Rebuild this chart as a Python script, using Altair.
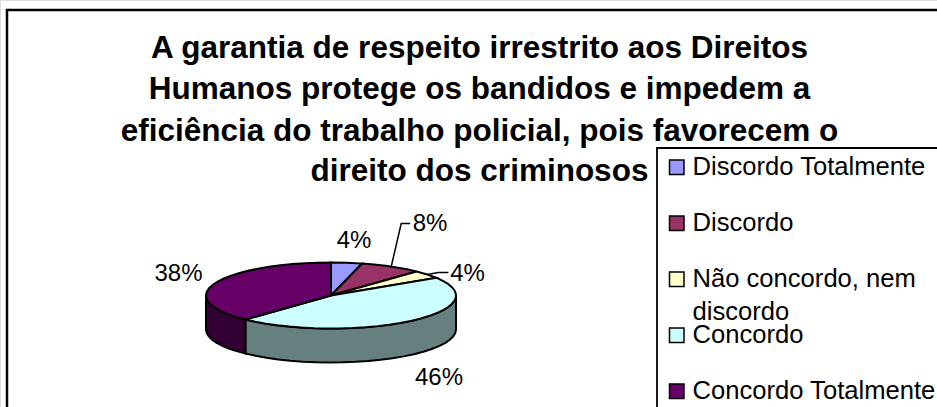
import math
import altair as alt

# Survey answers and their shares, in percent
categories = ["Discordo Totalmente", "Discordo", "Não concordo, nem discordo", "Concordo", "Concordo Totalmente"]
shares = [4, 8, 4, 46, 38]
top_colors = ["#9999FF", "#993366", "#FFFFCC", "#CCFFFF", "#660066"]
side_colors = ["#4D4D80", "#4D1A33", "#808066", "#668080", "#330033"]

title_lines = [
    "A garantia de respeito irrestrito aos Direitos",
    "Humanos protege os bandidos e impedem a",
    "eficiência do trabalho policial, pois favorecem o",
    "direito dos criminosos",
]
legend_lines = [
    ["Discordo Totalmente"],
    ["Discordo"],
    ["Não concordo, nem", "discordo"],
    ["Concordo"],
    ["Concordo Totalmente"],
]

W, H = 937, 407
FONT = "Liberation Sans"

# Tilted-disc geometry on the page
CX, CY, RX, RY, DEPTH = 331, 295.5, 125, 33, 34
STEP = 6


def rim(angle, drop=0.0):
    """Point on the disc rim; angle in degrees, clockwise from twelve o'clock."""
    a = math.radians(angle)
    return [CX + RX * math.sin(a), -(CY - RY * math.cos(a) + drop)]


def sweep(start, end):
    n = max(1, round((end - start) / STEP))
    return [start + (end - start) * i / n for i in range(n + 1)]


def feature(kind, coords, **props):
    return {"type": "Feature", "properties": props,
            "geometry": {"type": kind, "coordinates": coords}}


tops, sides = [], []
cum = 0
for cat, share, top, side in zip(categories, shares, top_colors, side_colors):
    a0, a1 = cum * 3.6, (cum + share) * 3.6
    cum += share
    ring = [[CX, -CY]] + [rim(a) for a in sweep(a0, a1)] + [[CX, -CY]]
    tops.append(feature("Polygon", [ring], name=cat, color=top))
    # Only the part of the rim facing the viewer shows a wall
    w0, w1 = max(a0, 90), min(a1, 270)
    if w1 > w0:
        arc = sweep(w0, w1)
        wall = [rim(a) for a in arc] + [rim(a, DEPTH) for a in reversed(arc)]
        wall.append(wall[0])
        sides.append(feature("Polygon", [wall], name=cat, color=side))


def mid_angle(i):
    return (sum(shares[:i]) + shares[i] / 2) * 3.6


# Elbowed leader lines for the two labels pulled off their slices
def leader(i, elbow_dx, elbow_dy, run):
    s = rim(mid_angle(i))
    e = [s[0] + elbow_dx, s[1] + elbow_dy]
    return feature("LineString", [s, e, [e[0] + run, e[1]]], name=categories[i])


leaders = [leader(1, 10, 43, 9), leader(2, 11, 2, 10)]

projection = alt.Projection(type="identity", reflectY=True, scale=1, translate=[0, 0])


def shapes(features, **mark):
    return (alt.Chart(alt.Data(values=features))
            .mark_geoshape(**mark)
            .project(**projection.to_dict()))


walls = shapes(sides, stroke="black", strokeWidth=2).encode(
    fill=alt.Fill("properties.color:N", scale=None))
slices = shapes(tops, stroke="black", strokeWidth=2).encode(
    fill=alt.Fill("properties.color:N", scale=None))
leader_lines = shapes(leaders, filled=False, stroke="black", strokeWidth=1.5)


def text(label, x, y, size, **kw):
    return alt.Chart(alt.Data(values=[{"t": label}])).mark_text(
        font=FONT, fontSize=size, color="black", baseline="middle", **kw
    ).encode(text="t:N", x=alt.value(x), y=alt.value(y))


def box(x, y, x2, y2, **kw):
    return alt.Chart(alt.Data(values=[{"k": 1}])).mark_rect(
        fill="white", stroke="black", **kw
    ).encode(x=alt.value(x), x2=alt.value(x2), y=alt.value(y), y2=alt.value(y2))


layers = [box(7, 10, 960, 440, strokeWidth=2.5)]

title_y = [49, 90, 132, 172]
for line, y in zip(title_lines, title_y):
    layers.append(text(line, 479.5, y, 31.5, fontWeight="bold", align="center"))

layers += [walls, slices, leader_lines]

label_pos = [(354, 241), (430, 224), (467.5, 274), (439, 378), (178.5, 274)]
for share, (x, y) in zip(shares, label_pos):
    layers.append(text(f"{share}%", x, y, 24, align="center"))

layers.append(box(657, 148, 960, 440, strokeWidth=1.8))

legend_y = [167, 223, 279, 335, 391]
for lines, color, y in zip(legend_lines, top_colors, legend_y):
    layers.append(
        alt.Chart(alt.Data(values=[{"k": 1}])).mark_rect(
            fill=color, stroke="black", strokeWidth=1.5
        ).encode(x=alt.value(669.5), x2=alt.value(684), y=alt.value(y - 7),
                 y2=alt.value(y + 7.5))
    )
    for j, line in enumerate(lines):
        layers.append(text(line, 692.5, y + 33 * j, 25.6, align="left"))

chart = alt.layer(*layers).properties(
    width=W, height=H, padding=0, autosize=alt.AutoSizeParams(type="none")
).configure_view(stroke=None).configure(background="white")

chart.save("out.html", embed_options={"renderer": "svg", "actions": False})
